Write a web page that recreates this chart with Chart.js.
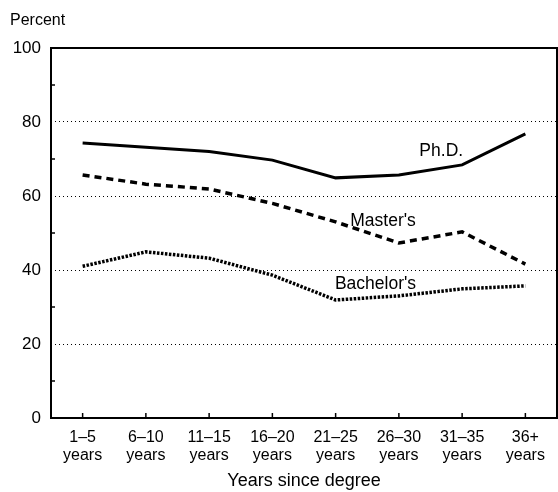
<!DOCTYPE html>
<html>
<head>
<meta charset="utf-8">
<script src="https://cdn.jsdelivr.net/npm/chart.js@4"></script>
<style>
html,body{margin:0;padding:0;background:#fff;}
#wrap{position:relative;width:558px;height:492px;}
</style>
</head>
<body>
<div id="wrap"><canvas id="c" width="558" height="492"></canvas></div>
<script>
const categories = [["1–5","years"],["6–10","years"],["11–15","years"],["16–20","years"],["21–25","years"],["26–30","years"],["31–35","years"],["36+","years"]];
const phd = [74.3, 73.2, 72.0, 69.7, 64.9, 65.7, 68.4, 76.8];
const masters = [65.7, 63.2, 61.9, 58.0, 53.0, 47.3, 50.3, 41.6];
const bachelors = [41.0, 44.9, 43.2, 38.6, 31.9, 33.0, 34.9, 35.7];
const yTickLabels = [0, 20, 40, 60, 80, 100];
const seriesLabels = [
  {text: "Ph.D.", x: 5.67, y: 72},
  {text: "Master's", x: 4.75, y: 53.3},
  {text: "Bachelor's", x: 4.63, y: 36.2}
];

const FONT = "'Liberation Sans', Arial, sans-serif";

const decor = {
  id: 'decor',
  afterDraw(chart) {
    const {ctx, chartArea: a, scales: {x, y}} = chart;
    ctx.save();
    ctx.strokeStyle = '#000';
    ctx.lineWidth = 2;
    ctx.strokeRect(a.left, a.top, a.right - a.left, a.bottom - a.top);
    ctx.lineWidth = 1.5;
    for (let i = 0; i < categories.length; i++) {
      const px = x.getPixelForValue(i);
      ctx.beginPath(); ctx.moveTo(px, a.bottom); ctx.lineTo(px, a.bottom - 5); ctx.stroke();
    }
    for (let v = 10; v < 100; v += 20) {
      const py = y.getPixelForValue(v);
      ctx.beginPath(); ctx.moveTo(a.left, py); ctx.lineTo(a.left + 4, py); ctx.stroke();
    }
    ctx.fillStyle = '#000';
    ctx.font = "17.5px " + FONT;
    ctx.textAlign = 'center';
    ctx.textBaseline = 'middle';
    for (const s of seriesLabels) {
      ctx.fillText(s.text, x.getPixelForValue(s.x), y.getPixelForValue(s.y));
    }
    ctx.textAlign = 'left';
    ctx.textBaseline = 'alphabetic';
    ctx.font = "16px " + FONT;
    ctx.fillText("Percent", 10, 25);
    ctx.restore();
  }
};

new Chart(document.getElementById('c'), {
  type: 'line',
  data: {
    labels: categories,
    datasets: [
      {label: "Ph.D.", data: phd, borderColor: '#000', borderWidth: 3, pointRadius: 0, tension: 0, fill: false},
      {label: "Master's", data: masters, borderColor: '#000', borderWidth: 3.5, borderDash: [7, 5], pointRadius: 0, tension: 0, fill: false},
      {label: "Bachelor's", data: bachelors, borderColor: '#000', borderWidth: 3.5, borderDash: [2.5, 1.5], pointRadius: 0, tension: 0, fill: false}
    ]
  },
  options: {
    responsive: false,
    animation: false,
    events: [],
    layout: {padding: {left: 0, right: 1, top: 48, bottom: 0}},
    plugins: {legend: {display: false}, tooltip: {enabled: false}},
    scales: {
      x: {
        offset: true,
        grid: {display: false, drawTicks: false},
        border: {display: false},
        ticks: {color: '#000', font: {family: FONT, size: 16, lineHeight: 1.1}, padding: 11, maxRotation: 0, autoSkip: false},
        title: {display: true, text: "Years since degree", color: '#000', font: {family: FONT, size: 18}, padding: {top: 1, bottom: 0}},
        afterFit: s => { s.height = 74; }
      },
      y: {
        min: 0, max: 100,
        ticks: {
          stepSize: 20, color: '#000', font: {family: FONT, size: 17}, padding: 10,
          callback: v => yTickLabels.includes(v) ? String(v) : ''
        },
        grid: {
          drawTicks: false,
          color: c => (c.tick && c.tick.value > 0 && c.tick.value < 100) ? '#000' : 'rgba(0,0,0,0)',
          lineWidth: 1
        },
        border: {display: false, dash: [1, 3]},
        afterFit: s => { s.width = 51; }
      }
    }
  },
  plugins: [decor]
});
</script>
</body>
</html>
